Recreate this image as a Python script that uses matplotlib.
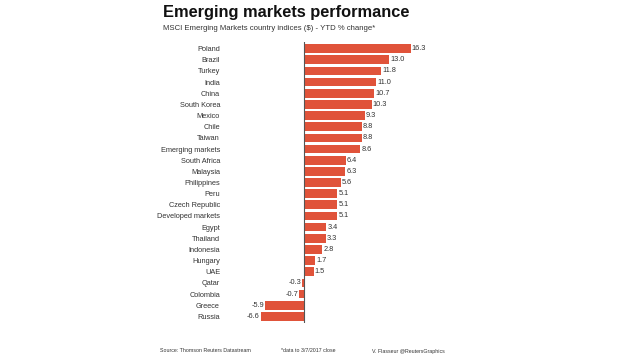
import matplotlib
matplotlib.use("Agg")
import matplotlib.pyplot as plt

plt.rcParams['font.family'] = ['Liberation Sans', 'DejaVu Sans']

countries = ["Poland", "Brazil", "Turkey", "India", "China", "South Korea",
             "Mexico", "Chile", "Taiwan", "Emerging markets", "South Africa",
             "Malaysia", "Philippines", "Peru", "Czech Republic",
             "Developed markets", "Egypt", "Thailand", "Indonesia", "Hungary",
             "UAE", "Qatar", "Colombia", "Greece", "Russia"]
ytd_change = [16.3, 13.0, 11.8, 11.0, 10.7, 10.3, 9.3, 8.8, 8.8, 8.6, 6.4, 6.3,
              5.6, 5.1, 5.1, 5.1, 3.4, 3.3, 2.8, 1.7, 1.5, -0.3, -0.7, -5.9, -6.6]

W, H = 620, 355
fig = plt.figure(figsize=(W / 100, H / 100), dpi=100)

# axes placed in pixels: zero line at x=304, ~6.56 px per point
left_px, right_px = 230, 440
top_px, bot_px = 42, 323
ax = fig.add_axes([left_px / W, 1 - bot_px / H,
                   (right_px - left_px) / W, (bot_px - top_px) / H])
scale = 6.56
ax.set_xlim((left_px - 304) / scale, (right_px - 304) / scale)
n = len(countries)
ax.set_ylim(n - 0.4, -0.6)

bar_color = '#e0533a'
pos = list(range(n))
ax.barh(pos, ytd_change, height=0.78, color=bar_color, zorder=2)
ax.axvline(0, color='#555555', lw=0.8, zorder=3)

for y, v in zip(pos, ytd_change):
    if v >= 0:
        ax.text(v + 0.15, y, f"{v:.1f}", va='center', ha='left', fontsize=5.3, color='#333333')
    else:
        ax.text(v - 0.15, y, f"{v:.1f}", va='center', ha='right', fontsize=5.3, color='#333333')

ax.set_yticks(pos)
ax.set_yticklabels(countries, fontsize=5.3, color='#333333')
ax.tick_params(axis='y', length=0, pad=7.2)
ax.set_xticks([])
for s in ax.spines.values():
    s.set_visible(False)

fig.text(163 / W, 1 - 13 / H, "Emerging markets performance", fontsize=11.8,
         fontweight='bold', va='center', ha='left', color='#111111')
fig.text(163 / W, 1 - 29 / H, "MSCI Emerging Markets country indices ($) - YTD % change*",
         fontsize=5.6, va='center', ha='left', color='#333333')

fig.text(160 / W, 1 - 351 / H, "Source: Thomson Reuters Datastream", fontsize=3.8,
         va='center', ha='left', color='#333333')
fig.text(281 / W, 1 - 351 / H, "*data to 3/7/2017 close", fontsize=3.8,
         va='center', ha='left', color='#333333')
fig.text(372 / W, 1 - 351 / H, "V. Flasseur @ReutersGraphics", fontsize=3.8,
         va='center', ha='left', color='#333333')

fig.savefig("out.png", dpi=100, facecolor='white')
